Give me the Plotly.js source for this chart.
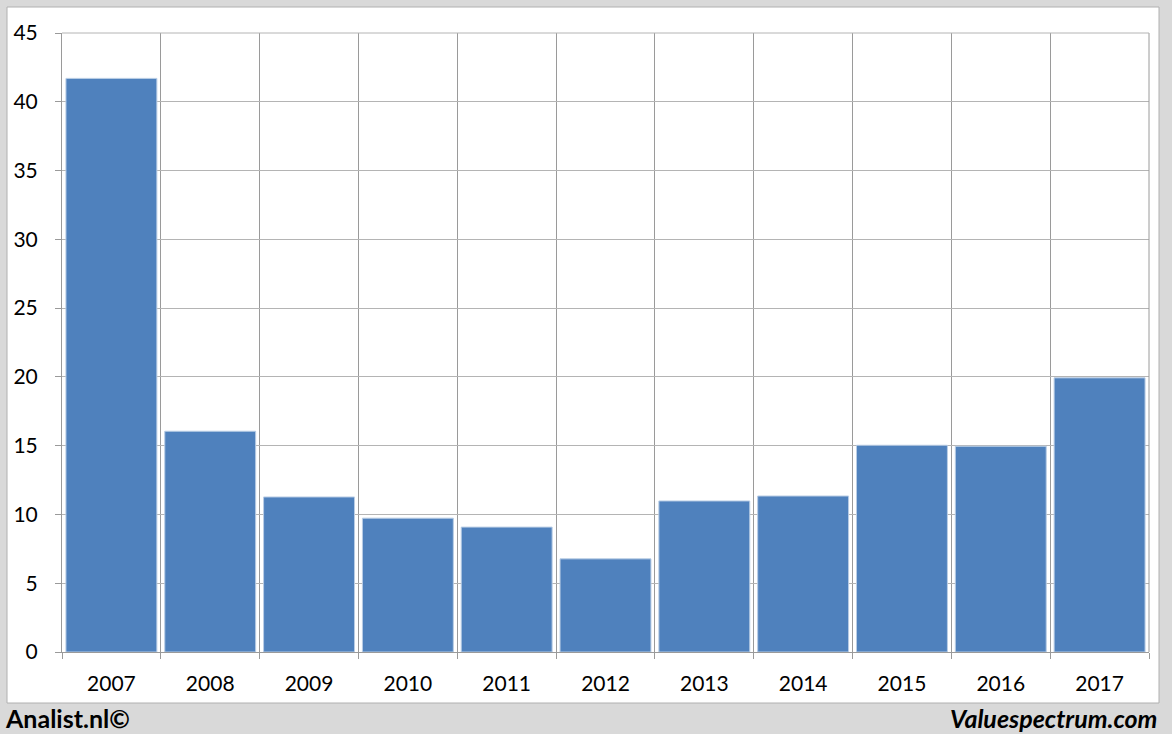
<!DOCTYPE html>
<html>
<head>
<meta charset="utf-8">
<script src="https://cdn.plot.ly/plotly-3.0.1.min.js"></script>
<style>html,body{margin:0;padding:0;background:#d9d9d9;}#chart{width:1172px;height:734px;}</style>
</head>
<body>
<div id="chart"></div>
<script>
var years = ["2007","2008","2009","2010","2011","2012","2013","2014","2015","2016","2017"];
var values = [41.7, 16.05, 11.27, 9.73, 9.08, 6.77, 10.98, 11.34, 15.03, 14.96, 19.93];
var yTicks = [0,5,10,15,20,25,30,35,40,45];

var L = 62, R = 23, T = 33, B = 82, W = 1172, H = 734;
var pw = W - L - R, ph = H - T - B;
function px(x){ return (x - L) / pw; }
function py(y){ return (H - B - y) / ph; }

var trace = {
  type: 'bar',
  x: years,
  y: values,
  marker: {color: '#4f81bd', line: {color: '#b9cde5', width: 1}},
  hoverinfo: 'x+y'
};

var FONT = 'Lato, "Open Sans", sans-serif';

var layout = {
  width: W, height: H,
  margin: {l: L, r: R, t: T, b: B},
  paper_bgcolor: '#d9d9d9',
  plot_bgcolor: '#ffffff',
  bargap: 0.08,
  showlegend: false,
  font: {family: FONT, color: '#000000', size: 21},
  xaxis: {
    type: 'category',
    tickson: 'boundaries',
    ticks: 'outside', ticklen: 6, tickcolor: '#9a9a9a', tickwidth: 1,
    showgrid: true, gridcolor: '#9a9a9a', gridwidth: 1,
    showline: true, linecolor: '#9a9a9a', linewidth: 1,
    ticklabelstandoff: 13,
    tickfont: {size: 21, family: FONT},
    fixedrange: true
  },
  yaxis: {
    range: [0, 45],
    tickvals: yTicks,
    ticktext: yTicks.map(String),
    ticks: 'outside', ticklen: 6, tickcolor: '#9a9a9a', tickwidth: 1,
    showgrid: true, gridcolor: '#b4b4b4', gridwidth: 1,
    zeroline: false,
    showline: true, linecolor: '#9a9a9a', linewidth: 1,
    ticklabelstandoff: 13,
    tickfont: {size: 21, family: FONT},
    fixedrange: true
  },
  shapes: [
    {type: 'rect', xref: 'paper', yref: 'paper', layer: 'below',
     x0: px(7), x1: px(1159), y0: py(703), y1: py(7),
     fillcolor: '#ffffff', line: {color: '#b0b0b0', width: 1}},
    {type: 'line', xref: 'paper', yref: 'paper', layer: 'above',
     x0: 1, x1: 1, y0: 0, y1: 1, line: {color: '#9a9a9a', width: 1}},
    {type: 'line', xref: 'paper', yref: 'paper', layer: 'above',
     x0: 0, x1: 1, y0: 1, y1: 1, line: {color: '#b4b4b4', width: 1}}
  ],
  annotations: [
    {xref: 'paper', yref: 'paper', x: px(3), y: py(718), xanchor: 'left', yanchor: 'middle',
     text: '<b>Analist.nl©</b>', showarrow: false,
     font: {size: 25, family: FONT, color: '#000000'}},
    {xref: 'paper', yref: 'paper', x: px(1159), y: py(718), xanchor: 'right', yanchor: 'middle',
     text: '<b><i>Valuespectrum.com</i></b>', showarrow: false,
     font: {size: 25, family: FONT, color: '#000000'}}
  ]
};

Plotly.newPlot('chart', [trace], layout, {displayModeBar: false, staticPlot: true});
</script>
</body>
</html>
